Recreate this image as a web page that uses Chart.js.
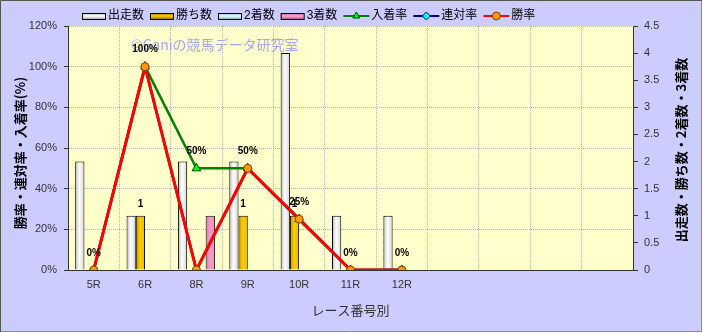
<!DOCTYPE html>
<html>
<head>
<meta charset="utf-8">
<script src="https://cdn.jsdelivr.net/npm/chart.js"></script>
<style>
html, body { margin: 0; padding: 0; background: #ccccff; }
#wrap { width: 703px; height: 333px; }
</style>
</head>
<body>
<div id="wrap"><canvas id="c" width="703" height="333"></canvas></div>
<script>
// --- データ ---
const races = ['5R', '6R', '8R', '9R', '10R', '11R', '12R', '', '', '', ''];
const starts = [2, 1, 2, 2, 4, 1, 1];        // 出走数
const wins = [0, 1, 0, 1, 1, 0, 0];          // 勝ち数
const seconds = [0, 0, 0, 0, 0, 0, 0];       // 2着数
const thirds = [0, 0, 1, 0, 0, 0, 0];        // 3着数
const placeRate = [0, 100, 50, 50, 25, 0, 0];    // 入着率
const quinellaRate = [0, 100, 0, 50, 25, 0, 0];  // 連対率
const winRate = [0, 100, 0, 50, 25, 0, 0];       // 勝率
const leftTicks = [0, 20, 40, 60, 80, 100, 120];
const rightTicks = [0, 0.5, 1, 1.5, 2, 2.5, 3, 3.5, 4, 4.5];

const FONT = "'Liberation Sans', 'Noto Sans CJK JP', sans-serif";
const JP = "'Noto Sans CJK JP', sans-serif";
const CAT_PCT = 0.72;
const BAR_SETS = 4;
Chart.defaults.font.family = FONT;

// 棒の横グラデーション (左:暗 → 中:明 → 右:やや暗)
function barFill(dark, light, mid) {
    return function(c) {
        const xs = c.chart.scales && c.chart.scales.x;
        if (!xs || !isFinite(xs.left) || xs.right <= xs.left) return light;
        const cat = (xs.right - xs.left) / races.length;
        const bw = cat * CAT_PCT / BAR_SETS;
        const l = xs.getPixelForValue(c.dataIndex) - cat * CAT_PCT / 2 + c.datasetIndex * bw;
        if (!isFinite(l)) return light;
        const g = c.chart.ctx.createLinearGradient(l, 0, l + bw, 0);
        g.addColorStop(0, dark);
        g.addColorStop(0.45, light);
        g.addColorStop(1, mid);
        return g;
    };
}

const deco = {
    id: 'deco',
    beforeDraw(chart) {
        const { ctx, chartArea: a } = chart;
        ctx.save();
        ctx.fillStyle = '#ccccff';
        ctx.fillRect(0, 0, chart.width, chart.height);
        ctx.fillStyle = '#ffffcc';
        ctx.fillRect(a.left, a.top, a.right - a.left, a.bottom - a.top);
        // 外枠
        ctx.lineWidth = 1;
        ctx.strokeStyle = '#555';
        ctx.beginPath();
        ctx.moveTo(0.5, chart.height); ctx.lineTo(0.5, 0.5); ctx.lineTo(chart.width, 0.5);
        ctx.stroke();
        ctx.strokeStyle = '#8a8aa8';
        ctx.beginPath();
        ctx.moveTo(1, chart.height - 1.5); ctx.lineTo(chart.width - 1.5, chart.height - 1.5); ctx.lineTo(chart.width - 1.5, 1);
        ctx.stroke();
        ctx.strokeStyle = '#ffffff';
        ctx.beginPath();
        ctx.moveTo(0, chart.height - 0.5); ctx.lineTo(chart.width - 0.5, chart.height - 0.5); ctx.lineTo(chart.width - 0.5, 0);
        ctx.stroke();
        ctx.restore();
    },
    beforeDatasetsDraw(chart) {
        const ctx = chart.ctx;
        ctx.save();
        ctx.font = "14px " + JP;
        ctx.fillStyle = '#a3a8ee';
        ctx.textBaseline = 'middle';
        ctx.fillText('©Ganiの競馬データ研究室', 131, 45);
        ctx.restore();
    },
    afterDatasetsDraw(chart) {
        const ctx = chart.ctx;
        ctx.save();
        ctx.font = "bold 10px " + FONT;
        ctx.fillStyle = '#000';
        ctx.textAlign = 'center';
        ctx.textBaseline = 'middle';
        // 勝ち数ラベル
        chart.getDatasetMeta(1).data.forEach((bar, i) => {
            if (wins[i] > 0) ctx.fillText(String(wins[i]), bar.x, bar.y - 12);
        });
        // 入着率ラベル
        chart.getDatasetMeta(4).data.forEach((pt, i) => {
            ctx.fillText(placeRate[i] + '%', pt.x, pt.y - 17);
        });
        ctx.restore();
    },
    afterDraw(chart) {
        const ctx = chart.ctx;
        const a = chart.chartArea;
        ctx.save();
        // 凡例
        ctx.font = "12px " + FONT;
        ctx.textBaseline = 'middle';
        let x = 82;
        const y = 16;
        chart.data.datasets.forEach(ds => {
            if (ds.type === 'bar') {
                const g = ctx.createLinearGradient(0, y - 3, 0, y + 3);
                g.addColorStop(0, ds.legendDark);
                g.addColorStop(0.5, ds.legendLight);
                g.addColorStop(1, ds.legendDark);
                ctx.fillStyle = g;
                ctx.fillRect(x, y - 3, 23, 6);
                ctx.strokeStyle = '#000';
                ctx.lineWidth = 1;
                ctx.strokeRect(x + 0.5, y - 2.5, 23, 6);
                x += 26;
            } else {
                ctx.strokeStyle = ds.borderColor;
                ctx.lineWidth = 2;
                ctx.beginPath();
                ctx.moveTo(x, y); ctx.lineTo(x + 26, y);
                ctx.stroke();
                ctx.fillStyle = ds.pointBackgroundColor;
                ctx.strokeStyle = ds.pointBorderColor;
                ctx.lineWidth = 1;
                Chart.helpers.drawPoint(ctx, { pointStyle: ds.pointStyle, radius: 4, rotation: 0, borderWidth: 1 }, x + 13, y);
                x += 28;
            }
            ctx.fillStyle = '#000';
            ctx.fillText(ds.label, x, y);
            x += ctx.measureText(ds.label).width + 6;
        });
        // 軸タイトル
        ctx.fillStyle = '#000';
        ctx.textAlign = 'center';
        ctx.font = "bold 13px " + JP;
        ctx.save();
        ctx.translate(20, (a.top + a.bottom) / 2 + 5);
        ctx.rotate(-Math.PI / 2);
        ctx.fillText('勝率・連対率・入着率(%)', 0, 0);
        ctx.restore();
        ctx.save();
        ctx.translate(681, (a.top + a.bottom) / 2 + 2);
        ctx.rotate(-Math.PI / 2);
        ctx.fillText('出走数・勝ち数・2着数・3着数', 0, 0);
        ctx.restore();
        ctx.font = "13px " + JP;
        ctx.fillStyle = '#333';
        ctx.fillText('レース番号別', (a.left + a.right) / 2, 310);
        ctx.restore();
    }
};

const barBase = { type: 'bar', yAxisID: 'y1', borderColor: '#000', borderWidth: 1, categoryPercentage: CAT_PCT, barPercentage: 1.0 };
const lineBase = { type: 'line', yAxisID: 'y', fill: false, tension: 0, pointBorderWidth: 1 };

const chart = new Chart(document.getElementById('c'), {
    data: {
        labels: races,
        datasets: [
            { ...barBase, label: '出走数', data: starts, backgroundColor: barFill('#b8b8b8', '#ffffff', '#d4d4d4'),
              legendDark: '#b0b0b0', legendLight: '#ffffff', order: 3 },
            { ...barBase, label: '勝ち数', data: wins, backgroundColor: barFill('#c09000', '#ffcc00', '#eebb00'),
              legendDark: '#a07800', legendLight: '#ffcc00', order: 4 },
            { ...barBase, label: '2着数', data: seconds, backgroundColor: barFill('#99cccc', '#ccffff', '#b8eeee'),
              legendDark: '#88bbbb', legendLight: '#e0ffff', order: 5 },
            { ...barBase, label: '3着数', data: thirds, backgroundColor: barFill('#c87aa0', '#ff99cc', '#ee90c0'),
              legendDark: '#b06088', legendLight: '#ffaad4', order: 6 },
            { ...lineBase, label: '入着率', data: placeRate, borderColor: '#008000', borderWidth: 2.5,
              pointStyle: 'triangle', pointRadius: 5, pointBackgroundColor: '#00ff00', pointBorderColor: '#004000', order: 2 },
            { ...lineBase, label: '連対率', data: quinellaRate, borderColor: '#000080', borderWidth: 2.5,
              pointStyle: 'rectRot', pointRadius: 4, pointBackgroundColor: '#00ffff', pointBorderColor: '#000080', order: 1 },
            { ...lineBase, label: '勝率', data: winRate, borderColor: '#ff0000', borderWidth: 3,
              pointStyle: 'circle', pointRadius: 4, pointBackgroundColor: '#ff9900', pointBorderColor: '#804000', order: 0 }
        ]
    },
    options: {
        responsive: false,
        animation: false,
        layout: { padding: { top: 26, left: 0, right: 0, bottom: 0 } },
        plugins: { legend: { display: false }, tooltip: { enabled: false } },
        scales: {
            x: {
                type: 'category',
                offset: true,
                grid: { offset: true, color: '#b4b4b4', drawTicks: false },
                border: { color: '#333', dash: [1, 1] },
                ticks: { color: '#333', font: { size: 11 }, padding: 8, maxRotation: 0, autoSkip: false },
                afterFit(s) { s.height = 63; }
            },
            y: {
                position: 'left',
                min: 0, max: 120,
                afterBuildTicks(s) { s.ticks = leftTicks.map(v => ({ value: v })); },
                grid: { color: '#b4b4b4', tickColor: '#333', tickLength: 4 },
                border: { color: '#333', dash: [1, 1] },
                ticks: { color: '#333', font: { size: 11 }, padding: 7, callback: v => v + '%' },
                afterFit(s) { s.width = 68; }
            },
            y1: {
                position: 'right',
                min: 0, max: 4.5,
                afterBuildTicks(s) { s.ticks = rightTicks.map(v => ({ value: v })); },
                grid: { drawOnChartArea: false, tickColor: '#333', tickLength: 5 },
                border: { color: '#333' },
                ticks: { color: '#333', font: { size: 11 }, padding: 6, callback: v => String(v) },
                afterFit(s) { s.width = 70; }
            }
        }
    },
    plugins: [deco]
});
chart.update('none');
</script>
</body>
</html>
